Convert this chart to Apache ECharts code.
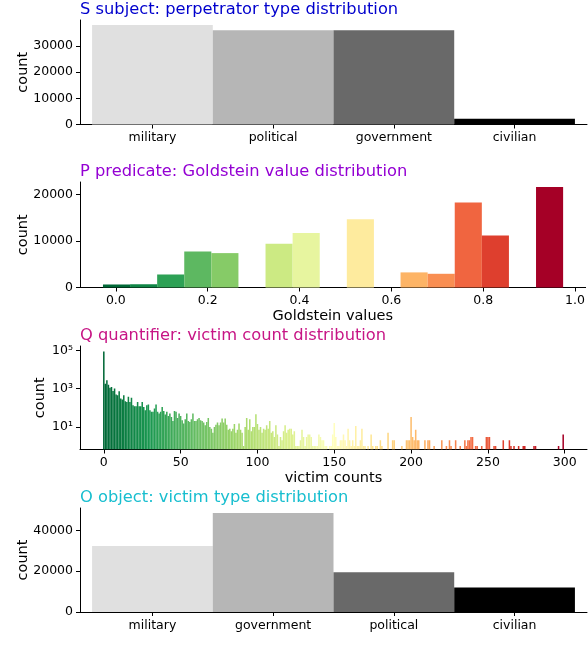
<!DOCTYPE html>
<html><head><meta charset="utf-8">
<script src="https://cdn.jsdelivr.net/npm/echarts@6/dist/echarts.min.js"></script>
<style>html,body{margin:0;padding:0;background:#fff}#c{width:588px;height:666px}</style>
</head><body><div id="c"></div><script>
// ---------- data ----------
const subjectCats = ['military', 'political', 'government', 'civilian'];
const subjectCounts = [38000, 36000, 35950, 2150];
const subjectTicks = [0, 10000, 20000, 30000];

const goldEdges = [-0.028, 0.031, 0.090, 0.149, 0.208, 0.267, 0.326, 0.385, 0.444, 0.503, 0.562, 0.620, 0.679, 0.738, 0.797, 0.856, 0.915, 0.974];
const goldCounts = [650, 700, 2800, 7750, 7400, 0, 9400, 11750, 0, 14700, 0, 3250, 2950, 18300, 11200, 0, 21600];
const goldTicks = [0, 0.2, 0.4, 0.6, 0.8, 1.0];
const goldCountTicks = [0, 10000, 20000];

// count of events per victim count 0..299 (index = victim count)
const victimCounts = [
  85000,1800,2700,1600,1100,1200,750,1000,490,450,
  730,300,270,450,220,200,370,200,330,135,
  120,120,200,120,120,200,110,74,135,146,
  74,61,61,90,146,61,50,61,110,68,
  44,61,37,50,33,20,68,61,29,50,
  37,22,15,25,50,20,18,25,50,20,
  20,25,29,22,20,17,12,18,29,10,
  8,5,10,13,17,12,17,27,17,27,
  13,7,8,6,8,14,5,7,15,7,
  5,1,10,29,7,25,6,10,10,46,
  14,7,10,5,8,7,12,8,20,5,
  6,3,12,4,1,3,2,6,12,5,
  7,8,8,4,6,1,1,1,2,7,
  3,1,3,4,4,3,1,1,1,1,
  4,3,2,2,1,1,0,1,1,4,
  16,3,1,1,2,2,4,2,1,8,
  2,1,2,1,11,1,1,2,8,1,
  1,0,1,0,4,1,0,1,1,0,
  2,1,0,0,0,5,0,0,2,2,
  0,0,0,0,1,0,0,2,2,2,
  33,3,2,7,2,2,0,0,0,2,
  0,2,2,0,0,1,0,0,0,0,
  2,0,0,1,0,2,1,0,0,2,
  0,0,1,0,0,2,1,2,2,3,
  3,0,1,1,0,0,1,0,0,3,
  3,3,0,0,1,1,0,0,0,0,
  2,0,0,0,2,1,0,1,0,0,
  1,0,0,1,1,0,0,0,0,0,
  1,1,0,0,0,0,0,0,0,0,
  0,0,0,0,0,0,1,0,0,4
];
const victimTicks = [0, 50, 100, 150, 200, 250, 300];
const victimLogTicks = [10, 1000, 100000];

const objectCats = ['military', 'government', 'political', 'civilian'];
const objectCounts = [32300, 48500, 19400, 12050];
const objectTicks = [0, 20000, 40000];

// ---------- styles ----------
const FONT = 'DejaVu Sans';
const greys = ['#e0e0e0', '#b6b6b6', '#696969', '#000000'];
const RdYlGn_r = ['#006837','#1a9850','#66bd63','#a6d96a','#d9ef8b','#ffffbf','#fee08b','#fdae61','#f46d43','#d73027','#a50026'];
const logMin = 0.66, logMax = 167000;
const supDigits = {'1':'\u00b9','3':'\u00b3','5':'\u2075'};

// ---------- build ----------
const subjectData = subjectCounts.map((c, i) => [i - 0.5, i + 0.5, c, i]);
const objectData = objectCounts.map((c, i) => [i - 0.5, i + 0.5, c, i]);
const goldData = goldCounts.map((c, i) => [goldEdges[i], goldEdges[i + 1], c, (goldEdges[i] + goldEdges[i + 1]) / 2]).filter(d => d[2] > 0);
const victimData = victimCounts.map((c, i) => [i - 0.5, i + 0.5, c, i]).filter(d => d[2] > 0);

function barRect(baseVal, colorFn) {
  return function (params, api) {
    const a = api.coord([api.value(0), api.value(2)]);
    const b = api.coord([api.value(1), baseVal]);
    return {
      type: 'rect',
      shape: { x: a[0], y: a[1], width: b[0] - a[0], height: b[1] - a[1] },
      style: { fill: colorFn ? colorFn(params) : api.visual('color') }
    };
  };
}

const axisLine = { show: true, onZero: false, lineStyle: { color: '#000', width: 1 } };
const axisTick = { show: true, length: 4, lineStyle: { color: '#000', width: 1 } };
const lab = { color: '#000', fontFamily: FONT, fontSize: 12.5, margin: 7 };
const nameStyle = { color: '#000', fontFamily: FONT, fontSize: 14.5 };

const grids = [
  { left: 80, width: 507, top: 20, height: 104.5 },
  { left: 80, width: 507, top: 182, height: 105.5 },
  { left: 80, width: 507, top: 346, height: 103.5 },
  { left: 80, width: 507, top: 508, height: 104 }
];

function catXAxis(gi, cats) {
  return {
    type: 'value', gridIndex: gi, min: -0.6, max: 3.6,
    axisLine, splitLine: { show: false },
    axisTick: Object.assign({ customValues: [0, 1, 2, 3] }, axisTick),
    axisLabel: Object.assign({ customValues: [0, 1, 2, 3], formatter: v => cats[Math.round(v)] }, lab)
  };
}
function countYAxis(gi, max, ticks) {
  return {
    type: 'value', gridIndex: gi, min: 0, max,
    axisLine, splitLine: { show: false },
    axisTick: Object.assign({ customValues: ticks }, axisTick),
    axisLabel: Object.assign({ customValues: ticks, formatter: v => String(v) }, lab),
    name: 'count', nameLocation: 'middle', nameGap: 49.5, nameMoveOverlap: false, nameTextStyle: nameStyle
  };
}

const titleDefs = [
  ['S subject: perpetrator type distribution', '#0000cd', 2],
  ['P predicate: Goldstein value distribution', '#9400d3', 164],
  ['Q quantifier: victim count distribution', '#c71585', 328],
  ['O object: victim type distribution', '#17becf', 490]
];

const option = {
  animation: false,
  backgroundColor: '#fff',
  title: titleDefs.map(t => ({
    text: t[0], left: 80, top: t[2], padding: 0,
    textStyle: { color: t[1], fontFamily: FONT, fontSize: 16.3, fontWeight: 'normal' }
  })),
  grid: grids,
  xAxis: [
    catXAxis(0, subjectCats),
    {
      type: 'value', gridIndex: 1, min: -0.078, max: 1.023,
      axisLine, splitLine: { show: false },
      axisTick: Object.assign({ customValues: goldTicks }, axisTick),
      axisLabel: Object.assign({ customValues: goldTicks, formatter: v => v.toFixed(1) }, lab),
      name: 'Goldstein values', nameLocation: 'middle', nameGap: 21, nameMoveOverlap: false, nameTextStyle: nameStyle
    },
    {
      type: 'value', gridIndex: 2, min: -15.5, max: 314.5,
      axisLine, splitLine: { show: false },
      axisTick: Object.assign({ customValues: victimTicks }, axisTick),
      axisLabel: Object.assign({ customValues: victimTicks, formatter: v => String(v) }, lab),
      name: 'victim counts', nameLocation: 'middle', nameGap: 21, nameMoveOverlap: false, nameTextStyle: nameStyle
    },
    catXAxis(3, objectCats)
  ],
  yAxis: [
    countYAxis(0, 39900, subjectTicks),
    countYAxis(1, 22700, goldCountTicks),
    {
      type: 'log', gridIndex: 2, min: logMin, max: logMax, logBase: 10,
      axisLine, splitLine: { show: false },
      axisTick: Object.assign({ customValues: victimLogTicks }, axisTick),
      axisLabel: Object.assign({ customValues: victimLogTicks, formatter: v => '10' + supDigits[String(Math.round(Math.log10(v)))] }, lab),
      name: 'count', nameLocation: 'middle', nameGap: 32.5, nameMoveOverlap: false, nameTextStyle: nameStyle
    },
    countYAxis(3, 50900, objectTicks)
  ],
  visualMap: [
    { type: 'continuous', show: false, seriesIndex: 1, dimension: 3,
      min: (goldEdges[0] + goldEdges[1]) / 2, max: (goldEdges[16] + goldEdges[17]) / 2,
      inRange: { color: RdYlGn_r } },
    { type: 'continuous', show: false, seriesIndex: 2, dimension: 3,
      min: 0, max: victimCounts.length - 1, inRange: { color: RdYlGn_r } }
  ],
  series: [
    { type: 'custom', xAxisIndex: 0, yAxisIndex: 0, data: subjectData, encode: { x: [0, 1], y: 2 },
      renderItem: barRect(0, p => greys[p.dataIndex]) },
    { type: 'custom', xAxisIndex: 1, yAxisIndex: 1, data: goldData, encode: { x: [0, 1], y: 2 },
      renderItem: barRect(0) },
    { type: 'custom', xAxisIndex: 2, yAxisIndex: 2, data: victimData, encode: { x: [0, 1], y: 2 }, clip: true,
      renderItem: barRect(logMin) },
    { type: 'custom', xAxisIndex: 3, yAxisIndex: 3, data: objectData, encode: { x: [0, 1], y: 2 },
      renderItem: barRect(0, p => greys[p.dataIndex]) }
  ]
};
const chart = echarts.init(document.getElementById('c'), null, { renderer: 'canvas' });
chart.setOption(option);
</script></body></html>
